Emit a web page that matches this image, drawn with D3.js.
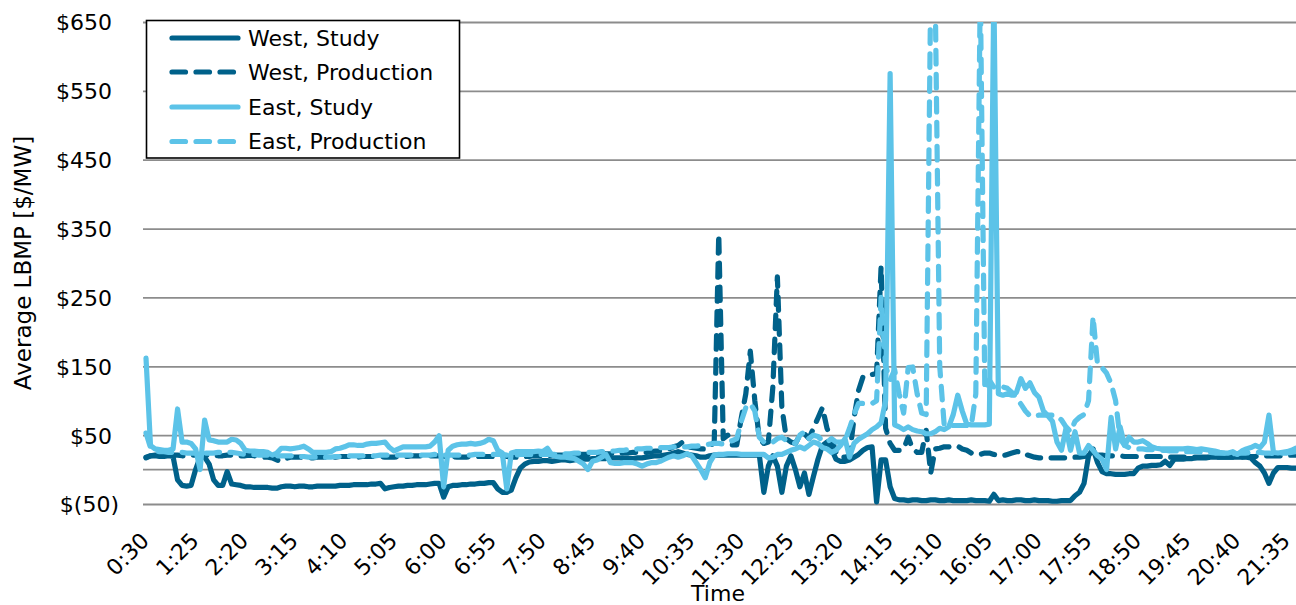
<!DOCTYPE html>
<html>
<head>
<meta charset="utf-8">
<script src="https://cdn.jsdelivr.net/npm/d3@7"></script>
<style>
  html, body { margin: 0; padding: 0; background: #fff; }
  svg { display: block; font-family: "DejaVu Sans", sans-serif; }
</style>
</head>
<body>
<svg id="chart" width="1296" height="605"></svg>
<script>
// Five-minute intervals starting at 0:30
const startMinutes = 30;
const stepMinutes = 5;
const pointCount = 256;
const times = d3.range(pointCount).map(i => {
  const m = startMinutes + i * stepMinutes;
  return Math.floor(m / 60) + ":" + String(m % 60).padStart(2, "0");
});

const tickLabels = ["0:30", "1:25", "2:20", "3:15", "4:10", "5:05", "6:00", "6:55",
  "7:50", "8:45", "9:40", "10:35", "11:30", "12:25", "13:20", "14:15", "15:10",
  "16:05", "17:00", "17:55", "18:50", "19:45", "20:40", "21:35"];

const yTicks = [-50, 50, 150, 250, 350, 450, 550, 650];

const seriesNames = ["West, Study", "West, Production", "East, Study", "East, Production"];

// Average LBMP, $/MW, one value per interval (rows of 11 = one tick label apart)
const westStudy = [
  18, 20, 20, 19, 19, 20, 19, -15, -23, -24, -23,
  0, 18, 18, 8, -15, -23, -23, -3, -21, -22, -23,
  -25, -25, -26, -26, -26, -26, -27, -27, -25, -24, -24,
  -25, -24, -24, -25, -25, -24, -24, -24, -24, -24, -23,
  -23, -23, -22, -22, -22, -22, -21, -21, -20, -28, -26,
  -25, -24, -24, -23, -23, -22, -22, -22, -21, -20, -20,
  -40, -25, -23, -23, -22, -22, -21, -21, -20, -20, -19,
  -19, -28, -33, -33, -30, -12, 2, 8, 11, 12, 12,
  13, 13, 12, 13, 14, 14, 13, 14, 15, 15, 15,
  16, 16, 16, 16, 17, 17, 17, 16, 16, 16, 17,
  17, 18, 19, 20, 20, 21, 22, 24, 26, 24, 22,
  21, 20, 18, 18, 20, 21, 21, 21, 21, 21, 21,
  21, 21, 21, 21, 21, -33, 5, 20, 5, -33, 5,
  20, 0, -25, -5, -36, -10, 15, 35, 40, 30, 15,
  12, 12, 14, 18, 22, 28, 32, 33, -47, 14, 14,
  -25, -42, -44, -44, -45, -44, -44, -45, -45, -44, -44,
  -45, -45, -44, -45, -45, -45, -45, -44, -45, -45, -45,
  -46, -36, -45, -44, -45, -45, -44, -44, -45, -45, -44,
  -45, -45, -45, -46, -46, -45, -45, -45, -38, -33, -20,
  20, 30, 10, -3, -6, -6, -7, -7, -7, -6, -6,
  2, 5, 5, 6, 6, 7, 12, 6, 15, 15, 15,
  16, 16, 17, 17, 17, 18, 18, 18, 18, 18, 18,
  18, 18, 18, 17, 10, 5, -5, -20, -5, 3, 3,
  3, 2, 2
];

const westProduction = [
  17, 20, 21, 21, 21, 21, 21, 21, 20, 20, 21,
  21, 22, 21, 21, 21, 20, 20, 21, 21, 20, 20,
  20, 21, 20, 19, 18, 18, 17, 14, 12, 16, 18,
  18, 18, 18, 17, 17, 18, 18, 18, 18, 18, 19,
  19, 19, 18, 18, 19, 19, 19, 19, 19, 18, 18,
  18, 19, 19, 19, 20, 20, 20, 20, 20, 20, 20,
  19, 19, 19, 18, 18, 18, 19, 19, 19, 19, 19,
  19, 20, 20, 19, 18, 18, 18, 19, 19, 20, 20,
  20, 20, 20, 21, 21, 21, 21, 21, 22, 22, 22,
  22, 23, 23, 23, 23, 24, 24, 24, 24, 25, 25,
  25, 25, 26, 27, 27, 28, 30, 33, 35, 40, 33,
  32, 31, 30, 30, 33, 40, 342, 45, 50, 36, 36,
  75, 110, 172, 100, 45, 38, 40, 120, 280, 90, 45,
  40, 38, 50, 52, 45, 60, 75, 90, 60, 45, 25,
  18, 18, 20, 75, 115, 135, 137, 138, 140, 295, 60,
  38, 28, 28, 30, 47, 30, 25, 25, 57, -5, 30,
  31, 33, 33, 34, 34, 30, 28, 24, 22, 22, 24,
  24, 22, 21, 20, 22, 24, 26, 26, 22, 20, 18,
  17, 17, 17, 17, 17, 17, 17, 18, 18, 18, 19,
  20, 21, 21, 21, 20, 20, 20, 20, 19, 19, 19,
  19, 19, 19, 19, 19, 19, 19, 18, 18, 18, 18,
  18, 18, 18, 18, 18, 18, 18, 18, 18, 18, 18,
  18, 18, 19, 19, 19, 20, 20, 20, 20, 20, 20,
  20, 21, 21
];

const eastStudy = [
  162, 35, 30, 29, 28, 28, 30, 88, 40, 40, 38,
  30, 0, 72, 43, 42, 40, 40, 40, 44, 43, 38,
  28, 27, 27, 26, 26, 25, 21, 24, 31, 31, 30,
  31, 32, 34, 30, 25, 25, 25, 25, 26, 30, 31,
  33, 36, 36, 35, 35, 37, 38, 38, 39, 40, 32,
  27, 30, 33, 33, 33, 33, 33, 33, 34, 40, 49,
  -25, 28, 34, 36, 37, 37, 38, 37, 38, 40, 44,
  42, 28, 24, -28, 24, 26, 26, 26, 26, 26, 27,
  26, 31, 21, 19, 18, 18, 17, 16, 12, 8, 0,
  12, 14, 18, 22, 10, 9, 9, 10, 10, 10, 8,
  5, 8, 10, 10, 12, 15, 18, 20, 18, 20, 23,
  20, 10, 0, -12, 10, 21, 22, 22, 23, 23, 23,
  22, 22, 22, 22, 22, 22, 17, 18, 22, 22, 25,
  28, 30, 33, 30, 35, 40, 38, 32, 30, 25, 28,
  35, 45, 18, 38, 44, 48, 52, 58, 62, 68, 100,
  575, 65, 62, 58, 62, 58, 56, 55, 52, 52, 55,
  60, 58, 62, 80, 108, 85, 66, 65, 65, 65, 65,
  66, 700, 110, 108, 110, 108, 112, 132, 118, 126, 112,
  105, 85, 78, 70, 40, 28, 60, 28, 55, 24, 24,
  35, 28, 20, 15, 0, 76, 30, 62, 35, 47, 40,
  40, 42, 38, 33, 31, 30, 30, 30, 30, 30, 30,
  31, 30, 29, 30, 29, 28, 27, 25, 24, 24, 26,
  22, 27, 30, 32, 35, 32, 40, 79, 25, 24, 25,
  26, 28, 31
];

const eastProduction = [
  53, 32, 27, 26, 26, 25, 25, 25, 25, 24, 24,
  24, 24, 24, 24, 24, 25, 25, 25, 25, 24, 23,
  22, 22, 22, 21, 21, 21, 20, 20, 20, 20, 20,
  19, 19, 19, 18, 18, 18, 18, 18, 18, 19, 19,
  19, 20, 20, 20, 20, 20, 20, 20, 21, 21, 21,
  21, 21, 21, 21, 21, 21, 21, 21, 21, 22, 22,
  21, 21, 21, 21, 21, 21, 21, 22, 22, 22, 22,
  22, 22, 22, 21, 21, 21, 22, 22, 22, 22, 22,
  22, 22, 22, 22, 23, 23, 23, 24, 24, 24, 25,
  25, 25, 26, 26, 27, 27, 28, 28, 29, 29, 30,
  30, 31, 31, 31, 32, 32, 32, 33, 33, 33, 33,
  34, 34, 35, 36, 37, 38, 38, 37, 40, 42, 45,
  70, 90, 96, 85, 47, 40, 38, 40, 45, 47, 42,
  40, 38, 50, 55, 45, 50, 48, 42, 40, 45, 40,
  40, 42, 60, 80, 96, 96, 96, 96, 100, 250, 150,
  130, 145, 110, 82, 148, 149, 110, 82, 80, 700, 690,
  150, 64, 64, 64, 64, 64, 64, 64, 110, 700, 116,
  130, 120, 118, 120, 118, 112, 105, 95, 85, 78, 78,
  79, 79, 79, 79, 78, 72, 62, 55, 70, 76, 80,
  100, 222, 152, 148, 140, 125, 100, 45, 35, 32, 31,
  30, 30, 29, 29, 28, 28, 28, 27, 27, 27, 26,
  26, 26, 26, 25, 25, 25, 24, 24, 24, 23, 23,
  23, 24, 24, 25, 25, 25, 24, 24, 23, 23, 24,
  24, 25, 26
];

const seriesValues = [westStudy, westProduction, eastStudy, eastProduction];
const seriesColors = ["#00618a", "#00618a", "#5cc3e8", "#5cc3e8"];
const seriesDashed = [false, true, false, true];

const plot = { left: 146, right: 1296, top: 22, bottom: 504 };
const svg = d3.select("#chart");
svg.append("rect").attr("width", 1296).attr("height", 605).attr("fill", "#fff");

const x = d3.scalePoint().domain(times).range([plot.left, plot.right]).padding(0);
const y = d3.scaleLinear().domain([-50, 650]).range([plot.bottom, plot.top]);

const gridColor = "#8c8c8c";
const textColor = "#000";
const fontSize = 22;
const lineWidth = 5.2;
const dashPattern = "13.5,10.5";

// Horizontal gridlines with accounting-style dollar labels
const yAxis = d3.axisLeft(y)
  .tickValues(yTicks)
  .tickSize(-(plot.right - plot.left + 4))
  .tickPadding(0)
  .tickFormat(v => v < 0 ? "$(" + Math.abs(v) + ")" : "$" + v);

const gy = svg.append("g")
  .attr("transform", `translate(${plot.left - 3},0)`)
  .call(yAxis);
gy.select(".domain").remove();
gy.selectAll(".tick line").attr("stroke", gridColor).attr("stroke-width", 1.8);
gy.selectAll(".tick text")
  .attr("x", d => d < 0 ? -24 : -31)
  .attr("dy", "0.36em")
  .attr("fill", textColor)
  .style("font-size", fontSize + "px")
  .style("font-family", "'DejaVu Sans', sans-serif");

// Category axis crosses at $0
svg.append("line")
  .attr("x1", plot.left - 3).attr("x2", plot.right)
  .attr("y1", y(0)).attr("y2", y(0))
  .attr("stroke", gridColor).attr("stroke-width", 1.8);

// Rotated time labels
const xAxis = d3.axisBottom(x).tickValues(tickLabels).tickSize(0).tickPadding(0);
const gx = svg.append("g").attr("transform", `translate(0,${plot.bottom})`).call(xAxis);
gx.select(".domain").remove();
gx.selectAll(".tick text")
  .attr("text-anchor", "end")
  .attr("transform", "translate(4,38) rotate(-45)")
  .attr("dy", 0)
  .attr("y", 0)
  .attr("fill", textColor)
  .style("font-size", fontSize + "px")
  .style("font-family", "'DejaVu Sans', sans-serif");

// Series lines, clipped to the plot area
svg.append("clipPath").attr("id", "plot-clip")
  .append("rect")
  .attr("x", plot.left - 5).attr("y", plot.top)
  .attr("width", plot.right - plot.left + 10).attr("height", plot.bottom - plot.top + 10);

const line = d3.line()
  .x((d, i) => x(times[i]))
  .y(d => y(d));

const lines = svg.append("g").attr("clip-path", "url(#plot-clip)");
seriesValues.forEach((vals, k) => {
  lines.append("path")
    .datum(vals)
    .attr("d", line)
    .attr("fill", "none")
    .attr("stroke", seriesColors[k])
    .attr("stroke-width", lineWidth)
    .attr("stroke-linejoin", "round")
    .attr("stroke-linecap", "round")
    .attr("stroke-dasharray", seriesDashed[k] ? dashPattern : null);
});

// Axis titles
svg.append("text")
  .attr("transform", "translate(31,263) rotate(-90)")
  .attr("text-anchor", "middle")
  .attr("fill", textColor)
  .style("font-size", "23px")
  .text("Average LBMP [$/MW]");

svg.append("text")
  .attr("x", 718).attr("y", 601)
  .attr("text-anchor", "middle")
  .attr("fill", textColor)
  .style("font-size", "22px")
  .text("Time");

// Legend
const legend = svg.append("g");
legend.append("rect")
  .attr("x", 146.5).attr("y", 20.5)
  .attr("width", 313).attr("height", 137.5)
  .attr("fill", "#fff").attr("stroke", "#000").attr("stroke-width", 1.6);
const legendRowY = [38, 72, 107, 141.5];
seriesNames.forEach((name, k) => {
  legend.append("line")
    .attr("x1", 172).attr("x2", 238)
    .attr("y1", legendRowY[k]).attr("y2", legendRowY[k])
    .attr("stroke", seriesColors[k])
    .attr("stroke-width", lineWidth)
    .attr("stroke-linecap", "round")
    .attr("stroke-dasharray", seriesDashed[k] ? dashPattern : null);
  legend.append("text")
    .attr("x", 248).attr("y", legendRowY[k])
    .attr("dy", "0.36em")
    .attr("fill", textColor)
    .style("font-size", fontSize + "px")
    .text(name);
});
</script>
</body>
</html>
